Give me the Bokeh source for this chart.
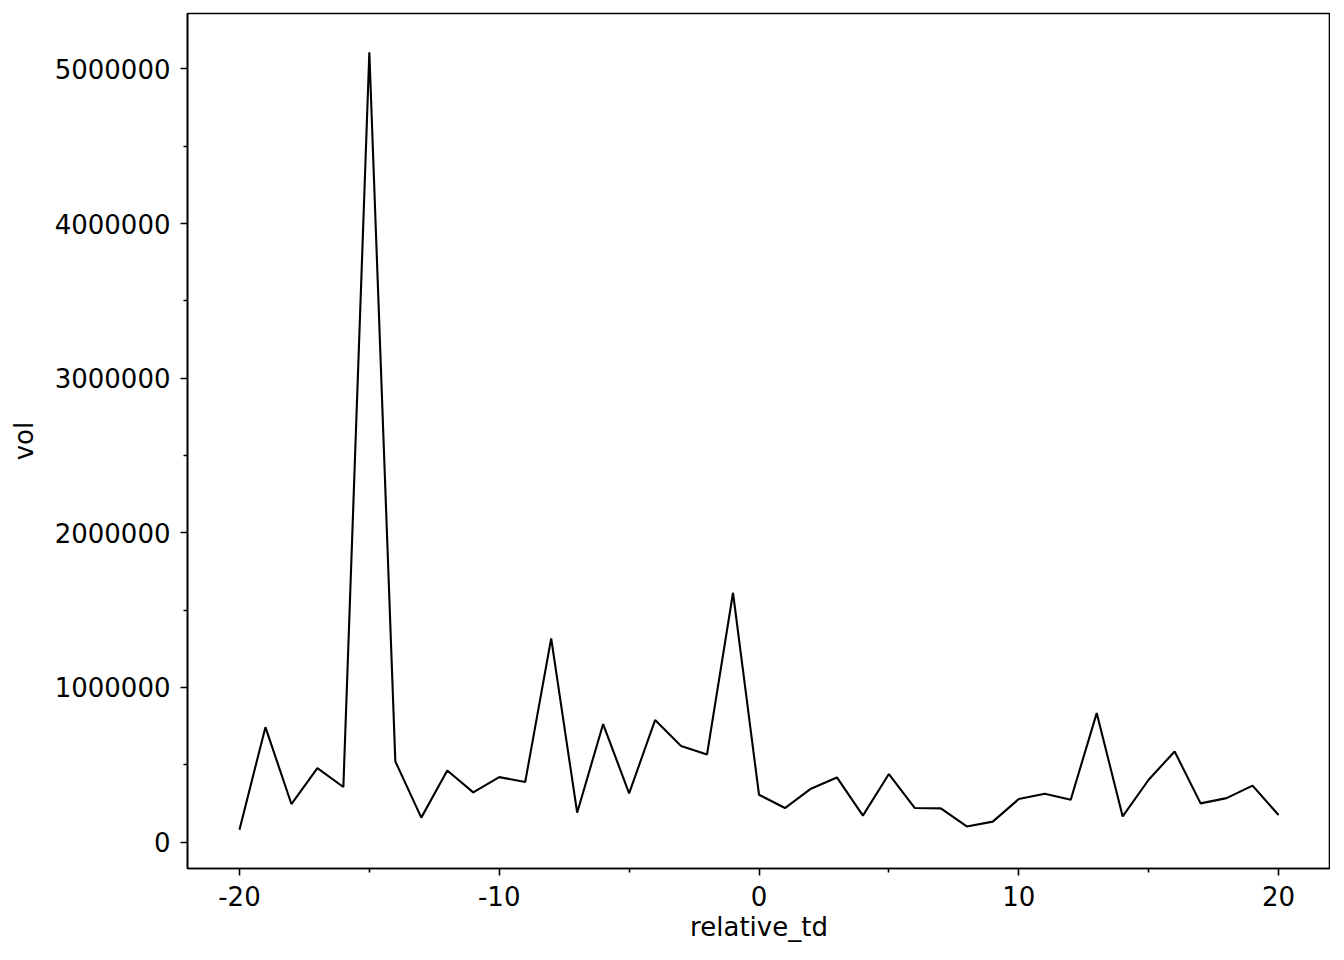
from bokeh.plotting import figure
from bokeh.models import FixedTicker, CustomJSTickFormatter, Range1d
from bokeh.embed import file_html
from bokeh.resources import INLINE

relative_td = list(range(-20, 21))
vol = [80000, 743000, 246000, 478000, 356000, 5107000, 522000, 158000, 463000, 321000,
       420000, 388000, 1317000, 190000, 763000, 315000, 789000, 621000, 567000, 1612000,
       306000, 220000, 345000, 418000, 171000, 440000, 220000, 218000, 101000, 132000,
       278000, 313000, 274000, 834000, 166000, 403000, 586000, 250000, 284000, 365000,
       175000]

x_major = [-20, -10, 0, 10, 20]
x_minor = [-15, -5, 5, 15]
y_major = [0, 1000000, 2000000, 3000000, 4000000, 5000000]
y_minor = [500000, 1500000, 2500000, 3500000, 4500000]

FONT = "DejaVu Sans"
FS = "26px"

p = figure(width=1330, height=944, output_backend="svg", toolbar_location=None,
           x_range=Range1d(-22, 22), y_range=Range1d(-171000, 5358000),
           min_border_left=187, min_border_right=0, min_border_top=13, min_border_bottom=76)

p.line(relative_td, vol, line_color="black", line_width=2.1)

p.xgrid.visible = False
p.ygrid.visible = False
p.outline_line_color = "black"
p.outline_line_width = 1.6
p.background_fill_color = "white"
p.border_fill_color = "white"

p.xaxis.ticker = FixedTicker(ticks=x_major, minor_ticks=x_minor)
p.yaxis.ticker = FixedTicker(ticks=y_major, minor_ticks=y_minor)
fmt = "return Math.round(tick).toString();"
p.xaxis.formatter = CustomJSTickFormatter(code=fmt)
p.yaxis.formatter = CustomJSTickFormatter(code=fmt)

for ax in (p.xaxis, p.yaxis):
    ax.axis_line_color = "black"
    ax.axis_line_width = 1.6
    ax.major_tick_line_color = "black"
    ax.major_tick_line_width = 1.6
    ax.minor_tick_line_color = "black"
    ax.minor_tick_line_width = 1.6
    ax.major_tick_in = 0
    ax.major_tick_out = 7
    ax.minor_tick_in = 0
    ax.minor_tick_out = 4
    ax.major_label_text_font = FONT
    ax.major_label_text_font_size = FS
    ax.major_label_text_color = "black"
    ax.axis_label_text_font = FONT
    ax.axis_label_text_font_size = FS
    ax.axis_label_text_font_style = "normal"
    ax.axis_label_text_color = "black"

p.xaxis.axis_label = "relative_td"
p.yaxis.axis_label = "vol"
p.xaxis.major_label_standoff = 10
p.yaxis.major_label_standoff = 10
p.xaxis.axis_label_standoff = 3
p.yaxis.axis_label_standoff = 13

open("out.html", "w").write(file_html(p, INLINE))
